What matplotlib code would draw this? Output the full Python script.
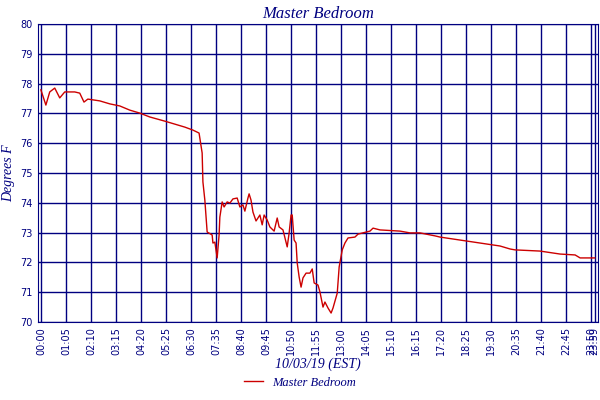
import matplotlib
matplotlib.use('Agg')
from matplotlib import pyplot as plt

NAVY = '#000080'
RED = '#cc0000'

# minutes after midnight, degrees F
minutes = [0, 13, 23, 36, 49, 62, 88, 101, 112, 122, 153, 179, 205, 231, 257, 283, 322, 348, 374, 395,
           411, 419, 421, 426, 432, 445, 447, 452, 458, 463, 465, 471, 476, 484, 491, 499, 510, 517, 525, 530,
           538, 541, 546, 551, 559, 569, 575, 580, 588, 595, 606, 614, 619, 629, 640, 645, 650, 653, 658, 663,
           666, 671, 676, 681, 689, 699, 705, 710, 720, 725, 733, 738, 746, 754, 759, 770, 775, 783, 790, 798,
           816, 824, 855, 863, 881, 933, 959, 985, 1024, 1037, 1089, 1141, 1193, 1219, 1232, 1297, 1349, 1388,
           1401, 1439]
temps = [77.79, 77.28, 77.72, 77.85, 77.52, 77.72, 77.72, 77.68, 77.38, 77.48, 77.42, 77.32, 77.25, 77.11,
         77.01, 76.88, 76.74, 76.64, 76.54, 76.44,
         76.34, 75.67, 74.70, 74.09, 73.02, 72.92, 72.65, 72.68, 72.15, 72.92, 73.52, 74.03, 73.86, 74.03,
         73.99, 74.13, 74.16, 73.86, 73.93, 73.72,
         74.16, 74.30, 74.09, 73.69, 73.39, 73.59, 73.26, 73.59, 73.42, 73.19, 73.05, 73.49, 73.19, 73.09,
         72.52, 72.99, 73.59, 73.59, 72.75, 72.65,
         71.98, 71.51, 71.17, 71.48, 71.64, 71.64, 71.78, 71.31, 71.24, 71.01, 70.50, 70.67, 70.47, 70.30,
         70.47, 70.97, 71.85, 72.42, 72.65, 72.82,
         72.85, 72.95, 73.05, 73.15, 73.09, 73.05, 72.99, 72.99, 72.89, 72.85, 72.75, 72.65, 72.55, 72.45,
         72.42, 72.38, 72.28, 72.25, 72.15, 72.15]

tick_min = list(range(0, 1431, 65)) + [1439]
tick_lbl = ['%02d:%02d' % (m // 60, m % 60) for m in tick_min]

fig = plt.figure(figsize=(6, 4), dpi=100)
ax = fig.add_axes([0.063, 0.195, 0.934, 0.745])

ax.plot(minutes, temps, color=RED, lw=1.0, label='Master Bedroom')
ax.set_xlim(-8, 1448)
ax.set_ylim(70, 80)
ax.set_yticks(range(70, 81))
ax.set_xticks(tick_min)
ax.set_xticklabels(tick_lbl, rotation=90, fontsize=7, color=NAVY)
ax.tick_params(axis='y', labelsize=7, colors=NAVY, length=0)
ax.tick_params(axis='x', length=0, colors=NAVY)
ax.grid(True, color=NAVY, lw=1.0)
for s in ax.spines.values():
    s.set_color(NAVY)

ax.set_title('Master Bedroom', fontsize=12, style='italic', color=NAVY,
             family='Liberation Serif', pad=4)
ax.set_xlabel('10/03/19 (EST)', fontsize=10, style='italic', color=NAVY,
              family='Liberation Serif', labelpad=2)
ax.set_ylabel('Degrees F', fontsize=10, style='italic', color=NAVY,
              family='Liberation Serif', labelpad=4)

leg = fig.legend(loc='lower center', bbox_to_anchor=(0.5, 0.0), frameon=False,
                 prop={'family': 'Liberation Serif', 'style': 'italic', 'size': 9},
                 handlelength=1.5)
for t in leg.get_texts():
    t.set_color(NAVY)

fig.savefig('out.png', dpi=100)
